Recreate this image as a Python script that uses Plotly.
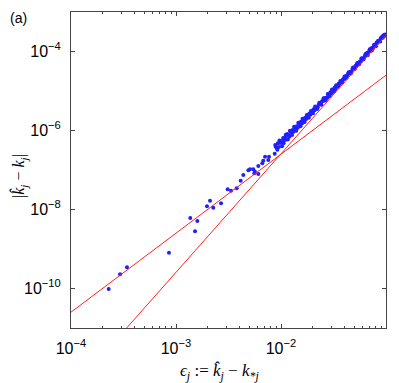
import numpy as np
import plotly.graph_objects as go

# scattered points at small eps (log10 values)
log_eps_sparse = [-3.641, -3.533, -3.467, -3.067, -2.864, -2.797, -2.819, -2.705, -2.676,
                  -2.645, -2.571, -2.508, -2.476, -2.422, -2.384, -2.359, -2.311, -2.295,
                  -2.264, -2.248, -2.254, -2.216, -2.178, -2.169, -2.152, -2.114, -2.121,
                  -2.216]
log_err_sparse = [-10.01, -9.641, -9.463, -9.094, -8.215, -8.291, -8.552, -7.919, -7.777,
                  -7.954, -7.843, -7.489, -7.524, -7.463, -7.271, -7.127, -7.008, -6.982,
                  -6.982, -7.043, -7.084, -6.899, -6.830, -6.765, -6.663, -6.663, -6.747,
                  -7.10]

# dense band for eps > ~1e-2
log_eps_band = [-2.06, -2.05, -2.04, -2.03, -2.02, -2.01, -2.00, -1.99, -1.98, -1.97,
                -1.96, -1.95, -1.94, -1.93, -1.92, -1.91, -1.90, -1.89, -1.88, -1.87,
                -1.86, -1.85, -1.84, -1.83, -1.82, -1.81, -1.80, -1.79, -1.78, -1.77,
                -1.76, -1.75, -1.74, -1.73, -1.72, -1.71, -1.70, -1.69, -1.68, -1.67,
                -1.66, -1.65, -1.64, -1.63, -1.62, -1.61, -1.60, -1.59, -1.58, -1.57,
                -1.56, -1.55, -1.54, -1.53, -1.52, -1.51, -1.50, -1.49, -1.48, -1.47,
                -1.46, -1.45, -1.44, -1.43, -1.42, -1.41, -1.40, -1.39, -1.38, -1.37,
                -1.36, -1.35, -1.34, -1.33, -1.32, -1.31, -1.30, -1.29, -1.28, -1.27,
                -1.26, -1.25, -1.24, -1.23, -1.22, -1.21, -1.20, -1.19, -1.18, -1.17,
                -1.16, -1.15, -1.14, -1.13, -1.12, -1.11, -1.10, -1.09, -1.08, -1.07,
                -1.06, -1.05, -1.04, -1.03, -1.02, -1.01, -1.00,
                -2.055, -2.035, -2.015, -1.995, -1.975, -1.955, -1.935, -1.915, -1.895,
                -1.875, -1.855, -1.835, -1.815, -1.795, -1.775, -1.755, -1.735, -1.715,
                -1.695, -1.675, -1.655, -1.635, -1.615, -1.595, -1.575, -1.555, -1.535,
                -1.515, -1.495, -1.475, -1.455, -1.435, -1.415, -1.395, -1.375, -1.355,
                -1.335, -1.315, -1.295, -1.275, -1.255, -1.235, -1.215, -1.195, -1.175,
                -1.155, -1.135, -1.115, -1.095, -1.075, -1.055, -1.035, -1.015]
log_err_band = [-6.59, -6.41, -6.44, -6.32, -6.42, -6.31, -6.31, -6.40, -6.19, -6.25,
                -6.17, -6.23, -6.09, -6.12, -6.16, -6.03, -6.06, -5.99, -6.03, -5.92,
                -5.95, -5.89, -5.93, -5.82, -5.84, -5.78, -5.82, -5.73, -5.74, -5.68,
                -5.71, -5.64, -5.63, -5.57, -5.60, -5.53, -5.52, -5.46, -5.49, -5.42,
                -5.41, -5.41, -5.34, -5.33, -5.33, -5.26, -5.25, -5.25, -5.18, -5.17,
                -5.17, -5.10, -5.09, -5.03, -5.06, -4.99, -4.98, -4.92, -4.95, -4.88,
                -4.87, -4.81, -4.82, -4.77, -4.77, -4.70, -4.69, -4.69, -4.62, -4.61,
                -4.55, -4.56, -4.51, -4.51, -4.44, -4.43, -4.43, -4.36, -4.35, -4.29,
                -4.30, -4.25, -4.25, -4.18, -4.17, -4.17, -4.10, -4.09, -4.03, -4.04,
                -3.99, -3.99, -3.92, -3.91, -3.91, -3.84, -3.83, -3.77, -3.78, -3.73,
                -3.73, -3.66, -3.65, -3.65, -3.58, -3.57, -3.58,
                -6.365, -6.485, -6.255, -6.265, -6.325, -6.105, -6.225, -6.005, -6.115,
                -5.905, -6.005, -5.805, -5.895, -5.705, -5.785, -5.605, -5.675, -5.505,
                -5.565, -5.395, -5.455, -5.295, -5.345, -5.185, -5.235, -5.075, -5.125,
                -4.965, -5.015, -4.855, -4.895, -4.745, -4.785, -4.635, -4.665, -4.525,
                -4.555, -4.405, -4.435, -4.295, -4.325, -4.175, -4.205, -4.065, -4.095,
                -3.945, -3.975, -3.835, -3.865, -3.725, -3.745, -3.615, -3.605]

# reference slopes: err = 10**c * eps**p
ref_powers = [2, 3]
ref_log_coef = [-2.60, -0.59]

eps = 10 ** np.array(log_eps_sparse + log_eps_band)
err = 10 ** np.array(log_err_sparse + log_err_band)

fig = go.Figure()
fig.add_trace(go.Scatter(x=eps, y=err, mode="markers",
                         marker=dict(color="#1f1fff", size=4, line_width=0),
                         showlegend=False))

eps_line = np.array([1e-4, 1e-1])
for p, c in zip(ref_powers, ref_log_coef):
    fig.add_trace(go.Scatter(x=eps_line, y=10 ** c * eps_line ** p, mode="lines",
                             line=dict(color="#ff2020", width=1), showlegend=False))

axis_common = dict(
    type="log", showgrid=False, zeroline=False, mirror="allticks",
    showline=True, linecolor="#444", linewidth=1,
    ticks="inside", ticklen=4, tickcolor="#444",
    tickfont=dict(family="Liberation Sans, Arial", size=16, color="black"),
    ticklabelstandoff=6,
)

xt = [1e-4, 1e-3, 1e-2, 1e-1]
fig.update_xaxes(range=[-4, -1], tickvals=xt,
                 ticktext=["10<sup>−%d</sup>" % k for k in (4, 3, 2, 1)],
                 minor=dict(ticks="inside", ticklen=2, tickcolor="#444",
                            tickvals=[m * 10.0 ** e for e in (-4, -3, -2) for m in range(2, 10)]),
                 **axis_common)
yt = [1e-10, 1e-8, 1e-6, 1e-4]
fig.update_yaxes(range=[-11, -3], tickvals=yt,
                 ticktext=["10<sup>−%d</sup>" % k for k in (10, 8, 6, 4)],
                 **axis_common)

serif = dict(family="Liberation Serif, DejaVu Serif, serif", size=17, color="black")
fig.add_annotation(text="<i>ϵ<sub>j</sub></i> := <i>k̂<sub>j</sub></i> − <i>k<sub>*j</sub></i>",
                   xref="paper", yref="paper", x=0.473, y=-0.14,
                   xanchor="center", yanchor="middle", showarrow=False, font=serif)
fig.add_annotation(text="|<i>k̂<sub>j</sub></i> − <i>k<sub>j</sub></i>|",
                   xref="paper", yref="paper", x=-0.163, y=0.48, textangle=-90,
                   xanchor="center", yanchor="middle", showarrow=False,
                   font=dict(serif, size=16))
fig.add_annotation(text="(a)", xref="paper", yref="paper", x=-0.2, y=1.0127,
                   xanchor="left", yanchor="top", showarrow=False,
                   font=dict(family="Liberation Sans, Arial", size=14, color="black"))

# the page body has an 8px margin, so the figure is a bit smaller than the window
fig.update_layout(width=391, height=375, plot_bgcolor="white", paper_bgcolor="white",
                  margin=dict(l=63, r=13, t=4, b=55, autoexpand=False))

fig.write_html("out.html")
